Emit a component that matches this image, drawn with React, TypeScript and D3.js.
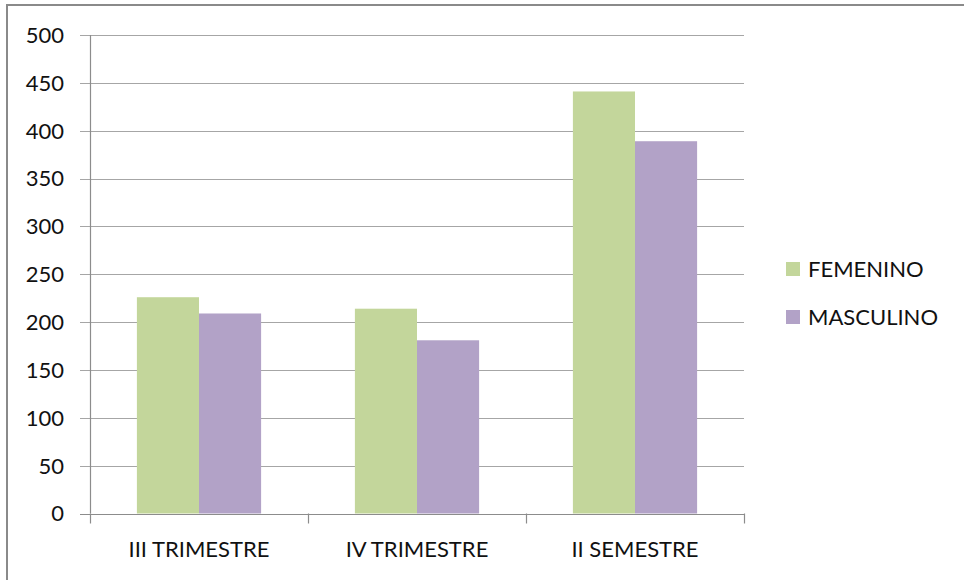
import React from "react";
import * as d3 from "d3";

const categories = ["III TRIMESTRE", "IV TRIMESTRE", "II SEMESTRE"];
const seriesNames = ["FEMENINO", "MASCULINO"];
const femenino = [226, 214, 441];
const masculino = [209, 181, 389];
const yTicks = [0, 50, 100, 150, 200, 250, 300, 350, 400, 450, 500];
const colors = ["#C3D69B", "#B2A2C7"];

const W = 964;
const H = 580;
const plot = { left: 90, right: 744, top: 35, bottom: 513.5 };
const FONT = "Lato, 'Liberation Sans', sans-serif";

export default function App() {
  const x0 = d3
    .scaleBand<string>()
    .domain(categories)
    .range([plot.left, plot.right])
    .paddingInner(0)
    .paddingOuter(0);
  const y = d3.scaleLinear().domain([0, 500]).range([plot.bottom, plot.top]);
  const x1 = d3
    .scaleBand<string>()
    .domain(seriesNames)
    .range([0, x0.bandwidth()])
    .paddingOuter(0.755)
    .paddingInner(0);

  const series = [femenino, masculino];
  const grid = "#A6A6A6";
  const axis = "#8C8C8C";
  const ink = "#111";

  return (
    <svg
      width={W}
      height={H}
      style={{ position: "absolute", left: 0, top: 0, background: "#fff" }}
      fontFamily={FONT}
    >
      <rect x={7} y={5} width={W} height={H} fill="#fff" stroke="#8A8A8A" strokeWidth={2} />
      {yTicks.map((t) => (
        <g key={t}>
          <line
            x1={plot.left - 10}
            x2={plot.right}
            y1={Math.round(y(t)) + 0.5}
            y2={Math.round(y(t)) + 0.5}
            stroke={t === 0 ? axis : grid}
            strokeWidth={1.2}
          />
          <text
            x={64}
            y={y(t)}
            dy="0.36em"
            textAnchor="end"
            fontSize={22}
            fill={ink}
          >
            {t}
          </text>
        </g>
      ))}
      <line x1={plot.left + 0.5} x2={plot.left + 0.5} y1={plot.top} y2={plot.bottom} stroke={axis} strokeWidth={1.2} />
      {[...categories.map((c) => x0(c)!), plot.right].map((xv, i) => (
        <line
          key={i}
          x1={Math.round(xv) + 0.5}
          x2={Math.round(xv) + 0.5}
          y1={plot.bottom}
          y2={plot.bottom + 10}
          stroke={axis}
          strokeWidth={1.2}
        />
      ))}
      {categories.map((c, ci) => (
        <g key={c}>
          {seriesNames.map((s, si) => {
            const v = series[si][ci];
            return (
              <rect
                key={s}
                x={x0(c)! + x1(s)!}
                y={y(v)}
                width={x1.bandwidth()}
                height={y(0) - y(v)}
                fill={colors[si]}
              />
            );
          })}
          <text
            x={x0(c)! + x0.bandwidth() / 2}
            y={557}
            textAnchor="middle"
            fontSize={22}
            fill={ink}
          >
            {c}
          </text>
        </g>
      ))}
      {seriesNames.map((s, i) => (
        <g key={s} transform={`translate(786, ${262 + i * 48})`}>
          <rect x={0} y={0} width={14} height={14} fill={colors[i]} />
          <text x={22} y={15} fontSize={22} fill={ink}>
            {s}
          </text>
        </g>
      ))}
    </svg>
  );
}
